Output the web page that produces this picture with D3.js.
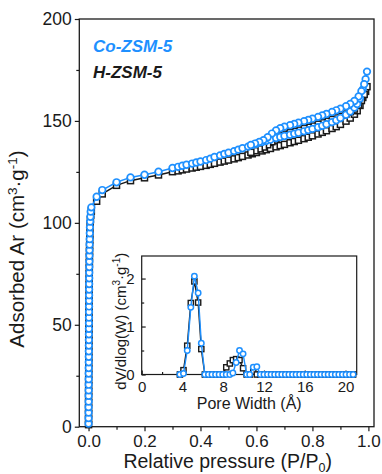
<!DOCTYPE html>
<html><head><meta charset="utf-8">
<script src="https://cdn.jsdelivr.net/npm/d3@7"></script>
<style>
html,body{margin:0;padding:0;background:#fff;}
svg{display:block;font-family:"Liberation Sans",Arial,sans-serif;}
</style></head><body>
<svg id="chart" width="382" height="474"></svg>
<script>
// Ar isotherms (87 K) — relative pressure P/P0, shared by both samples
const adsPressure = [0.0001,0.0001,0.0002,0.0002,0.0003,0.0003,0.0004,0.0005,0.0005,0.0006,
  0.0007,0.0008,0.0009,0.0010,0.0011,0.0012,0.0013,0.0014,0.0015,0.0016,
  0.0017,0.0018,0.0019,0.0020,0.0021,0.0022,0.0024,0.0026,0.0028,0.0030,
  0.0032,0.0035,0.0038,0.0042,0.0046,0.0050,0.0058,0.0067,0.0078,0.0100,
  0.029,0.049,0.10,0.15,0.20,0.25,0.30,
  0.32,0.335,0.35,0.37,0.385,0.40,0.42,0.435,0.45,0.47,0.485,0.50,0.52,0.535,0.55,
  0.57,0.585,0.60,0.62,0.635,0.65,0.67,0.685,0.70,0.72,0.735,0.75,0.77,0.785,0.80,
  0.82,0.835,0.85,0.87,0.885,0.90,0.92,0.935,0.95,0.96,0.97,0.98,0.99,0.995];
const desPressure = [0.985,0.975,0.965,0.95,0.935,0.92,0.90,0.885,0.87,0.85,0.835,0.82,0.80,
  0.785,0.77,0.75,0.735,0.72,0.70,0.685,0.67,0.655,0.64,0.625,0.61,0.595,0.58];

// Adsorbed amount, cm3/g
const coAds = [1.5,4.2,6.9,9.6,12.3,15.1,17.8,20.6,23.3,26.1,
  28.8,31.6,34.3,37.0,39.8,42.5,45.3,48.0,50.8,53.5,
  56.3,59.0,61.8,64.5,67.3,70.0,72.8,75.5,78.3,81.0,
  83.8,86.5,89.3,92.0,94.9,97.8,100.6,103.0,105.5,107.6,
  112.8,116.1,119.9,122.3,123.6,125.1,126.9,
  127.5,128.0,128.5,129.1,129.6,130.1,130.8,131.5,132.3,133.1,133.8,134.4,135.2,135.9,136.6,
  137.4,138.1,138.8,139.6,140.2,140.8,141.6,142.1,142.6,143.2,143.7,144.2,144.9,145.5,146.1,
  146.9,147.6,148.4,149.4,150.3,151.4,153.0,154.6,156.5,158.3,161.0,165.5,170.5,174.2];
const coDes = [168.0,164.6,162.0,159.8,158.3,157.2,156.0,155.2,154.4,153.4,152.7,152.0,151.1,
  150.5,149.9,149.1,148.5,147.9,147.2,146.4,145.3,143.8,142.0,140.6,139.7,138.9,138.2];
const hAds = [1.0,3.7,6.4,9.1,11.8,14.6,17.3,20.1,22.8,25.6,
  28.3,31.1,33.8,36.5,39.3,42.0,44.8,47.5,50.3,53.0,
  55.8,58.5,61.3,64.0,66.8,69.5,72.3,75.0,77.8,80.5,
  83.3,86.0,88.8,91.5,94.0,96.8,99.3,101.6,103.8,105.8,
  110.6,114.2,118.4,120.7,122.1,123.5,125.1,
  125.5,126.0,126.4,126.9,127.3,127.7,128.2,128.7,129.2,129.8,130.3,130.8,131.4,132.0,132.6,
  133.3,133.9,134.5,135.3,135.9,136.5,137.3,137.9,138.5,139.3,139.9,140.5,141.3,142.0,142.7,
  143.6,144.4,145.2,146.3,147.2,148.3,149.9,151.4,153.3,155.0,157.6,161.5,164.5,166.8];
const hDes = [163.0,160.0,157.8,155.8,154.5,153.4,152.3,151.5,150.7,149.8,149.1,148.4,147.5,
  146.9,146.3,145.5,144.9,144.3,143.5,142.6,141.3,139.8,138.3,137.2,136.3,135.4,134.6];

// Pore size distribution (inset)
const poreWidth = [3.75,4.10,4.47,4.82,5.17,5.54,5.85,6.20,6.55,6.90,7.25,7.60,7.95,8.30,8.65,
  8.95,9.27,9.60,9.95,10.30,10.60,10.95,11.30,11.65,12.00,12.35,12.70,13.05,13.40,13.75,
  14.10,14.45,14.80,15.15,15.50,15.85,16.20,16.55,16.90,17.25,17.60,17.95,18.30,18.65,19.00,
  19.35,19.70,20.05,20.40,20.75];
const coPSD = [0.00,0.02,0.50,1.40,2.05,1.70,0.65,0.00,0.00,0.00,0.00,0.00,0.00,0.00,0.00,
  0.03,0.25,0.50,0.43,0.00,0.00,0.15,0.16,0.00,0.00,0.00,0.00,0.00,0.00,0.00,
  0.00,0.00,0.00,0.00,0.00,0.00,0.00,0.00,0.00,0.00,0.00,0.00,0.00,0.00,0.00,
  0.00,0.00,0.00,0.00,0.00];
const hPSD = [0.00,0.09,0.60,1.49,1.94,1.50,0.53,0.00,0.00,0.00,0.00,0.00,0.00,0.15,0.23,
  0.30,0.32,0.30,0.13,0.00,0.00,0.06,0.00,0.00,0.00,0.00,0.00,0.00,0.00,0.00,
  0.00,0.00,0.00,0.00,0.00,0.00,0.00,0.00,0.00,0.00,0.00,0.00,0.00,0.00,0.00,
  0.00,0.00,0.00,0.00,0.00];

const xMajor = [0, 0.2, 0.4, 0.6, 0.8, 1.0];
const xMinor = [0.1, 0.3, 0.5, 0.7, 0.9];
const yMajor = [0, 50, 100, 150, 200];
const yMinor = [25, 75, 125, 175];
const insetXMajor = [0, 4, 8, 12, 16, 20];
const insetXMinor = [2, 6, 10, 14, 18];
const insetYMajor = [0, 1, 2];
const insetYMinor = [0.5, 1.5];

const seriesNames = ["Co-ZSM-5", "H-ZSM-5"];
const BLUE = "#1e90ff", INK = "#1a1a1a";

const svg = d3.select("#chart");

// ---------- main isotherm panel ----------
const x = d3.scaleLinear().domain([-0.033, 1.02]).range([79.3, 374]);
const y = d3.scaleLinear().domain([0, 200]).range([426.7, 19]);

function styleAxis(g, size) {
  g.select(".domain").remove();
  g.selectAll(".tick line").attr("stroke", INK).attr("stroke-width", 1.2);
  g.selectAll(".tick text").attr("fill", INK).style("font-size", size + "px")
    .style("font-family", '"Liberation Sans",Arial,sans-serif');
}

const gx = svg.append("g").attr("transform", `translate(0,${y(0)})`);
gx.append("g").call(d3.axisBottom(x).tickValues(xMajor).tickSize(4.5).tickPadding(3.5)
  .tickFormat(d3.format(".1f"))).call(g => styleAxis(g, 17));
gx.append("g").call(d3.axisBottom(x).tickValues(xMinor).tickSize(3).tickFormat(""))
  .call(g => styleAxis(g, 17));

const gy = svg.append("g").attr("transform", `translate(${x.range()[0]},0)`);
gy.append("g").call(d3.axisLeft(y).tickValues(yMajor).tickSize(4.5).tickPadding(3))
  .call(g => styleAxis(g, 17.5));
gy.append("g").call(d3.axisLeft(y).tickValues(yMinor).tickSize(3).tickFormat(""))
  .call(g => styleAxis(g, 17.5));

svg.append("rect")
  .attr("x", x.range()[0]).attr("y", y.range()[1])
  .attr("width", x.range()[1] - x.range()[0]).attr("height", y.range()[0] - y.range()[1])
  .attr("fill", "none").attr("stroke", INK).attr("stroke-width", 1.3);

// axis titles
const xt = svg.append("text").attr("x", (x.range()[0] + x.range()[1]) / 2 + 1).attr("y", 468)
  .attr("text-anchor", "middle").attr("fill", INK).style("font-size", "19.5px");
xt.append("tspan").text("Relative pressure (P/P");
xt.append("tspan").text("0").style("font-size", "12.5px").attr("dy", 3.5);
xt.append("tspan").text(")").attr("dy", -3.5);

const yt = svg.append("text").attr("transform", `translate(24,249) rotate(-90)`)
  .attr("text-anchor", "middle").attr("fill", INK).style("font-size", "20.5px");
yt.append("tspan").text("Adsorbed Ar (cm");
yt.append("tspan").text("3").style("font-size", "13.5px").attr("dy", -7);
yt.append("tspan").text("·g").attr("dy", 7);
yt.append("tspan").text("-1").style("font-size", "13.5px").attr("dy", -7);
yt.append("tspan").text(")").attr("dy", 7);

// isotherm series: adsorption branch followed by desorption branch
function isotherm(ads, des) {
  return adsPressure.map((p, i) => [p, ads[i]]).concat(desPressure.map((p, i) => [p, des[i]]));
}
const hPts = isotherm(hAds, hDes);
const coPts = isotherm(coAds, coDes);
const line = d3.line().x(d => x(d[0])).y(d => y(d[1]));

svg.append("path").datum(hPts).attr("d", line).attr("fill", "none")
  .attr("stroke", INK).attr("stroke-width", 1.5);
svg.append("g").selectAll("rect").data(hPts).join("rect")
  .attr("x", d => x(d[0]) - 3).attr("y", d => y(d[1]) - 3)
  .attr("width", 6).attr("height", 6)
  .attr("fill", "#fff").attr("stroke", INK).attr("stroke-width", 1.5);

svg.append("path").datum(coPts).attr("d", line).attr("fill", "none")
  .attr("stroke", BLUE).attr("stroke-width", 1.5);
svg.append("g").selectAll("circle").data(coPts).join("circle")
  .attr("cx", d => x(d[0])).attr("cy", d => y(d[1])).attr("r", 3.3)
  .attr("fill", "#fff").attr("stroke", BLUE).attr("stroke-width", 1.7);

// legend labels
svg.append("text").attr("x", 93).attr("y", 51.5).text(seriesNames[0])
  .attr("fill", BLUE).style("font-size", "17px").style("font-weight", "bold").style("font-style", "italic");
svg.append("text").attr("x", 93).attr("y", 77.5).text(seriesNames[1])
  .attr("fill", INK).style("font-size", "17px").style("font-weight", "bold").style("font-style", "italic");

// ---------- inset: pore size distribution ----------
const ix = d3.scaleLinear().domain([0, 21.1]).range([141.7, 356.7]);
const iy = d3.scaleLinear().domain([0, 2.47]).range([374.5, 256]);

svg.append("rect")
  .attr("x", ix.range()[0]).attr("y", iy.range()[1])
  .attr("width", ix.range()[1] - ix.range()[0]).attr("height", iy.range()[0] - iy.range()[1])
  .attr("fill", "#fff");

const igx = svg.append("g").attr("transform", `translate(0,${iy(0)})`);
igx.append("g").call(d3.axisBottom(ix).tickValues(insetXMajor).tickSize(-4).tickPadding(7)
  .tickFormat(d3.format("d"))).call(g => styleAxis(g, 15));
igx.append("g").call(d3.axisBottom(ix).tickValues(insetXMinor).tickSize(-2.5).tickFormat(""))
  .call(g => styleAxis(g, 15));
const igy = svg.append("g").attr("transform", `translate(${ix.range()[0]},0)`);
igy.append("g").call(d3.axisLeft(iy).tickValues(insetYMajor).tickSize(-4).tickPadding(7)
  .tickFormat(d3.format("d"))).call(g => styleAxis(g, 15));
igy.append("g").call(d3.axisLeft(iy).tickValues(insetYMinor).tickSize(-2.5).tickFormat(""))
  .call(g => styleAxis(g, 15));

svg.append("rect")
  .attr("x", ix.range()[0]).attr("y", iy.range()[1])
  .attr("width", ix.range()[1] - ix.range()[0]).attr("height", iy.range()[0] - iy.range()[1])
  .attr("fill", "none").attr("stroke", INK).attr("stroke-width", 1.2);

svg.append("text").attr("x", (ix.range()[0] + ix.range()[1]) / 2).attr("y", 409)
  .attr("text-anchor", "middle").attr("fill", INK).style("font-size", "16px").text("Pore Width (Å)");

const iyt = svg.append("text").attr("transform", `translate(126,${(iy.range()[0] + iy.range()[1]) / 2 + 6}) rotate(-90)`)
  .attr("text-anchor", "middle").attr("fill", INK).style("font-size", "15px");
iyt.append("tspan").text("dV/dlog(W) (cm");
iyt.append("tspan").text("3").style("font-size", "10px").attr("dy", -6);
iyt.append("tspan").text("·g").attr("dy", 6);
iyt.append("tspan").text("-1").style("font-size", "10px").attr("dy", -6);
iyt.append("tspan").text(")").attr("dy", 6);

const hPsdPts = poreWidth.map((w, i) => [w, hPSD[i]]);
const coPsdPts = poreWidth.map((w, i) => [w, coPSD[i]]);
const iline = d3.line().x(d => ix(d[0])).y(d => iy(d[1]));

svg.append("path").datum(hPsdPts).attr("d", iline).attr("fill", "none")
  .attr("stroke", INK).attr("stroke-width", 1.4);
svg.append("g").selectAll("rect").data(hPsdPts).join("rect")
  .attr("x", d => ix(d[0]) - 2.6).attr("y", d => iy(d[1]) - 2.6)
  .attr("width", 5.2).attr("height", 5.2)
  .attr("fill", "#fff").attr("stroke", INK).attr("stroke-width", 1.4);

svg.append("path").datum(coPsdPts).attr("d", iline).attr("fill", "none")
  .attr("stroke", BLUE).attr("stroke-width", 1.4);
svg.append("g").selectAll("circle").data(coPsdPts).join("circle")
  .attr("cx", d => ix(d[0])).attr("cy", d => iy(d[1])).attr("r", 2.7)
  .attr("fill", "#fff").attr("stroke", BLUE).attr("stroke-width", 1.5);
</script>
</body></html>
